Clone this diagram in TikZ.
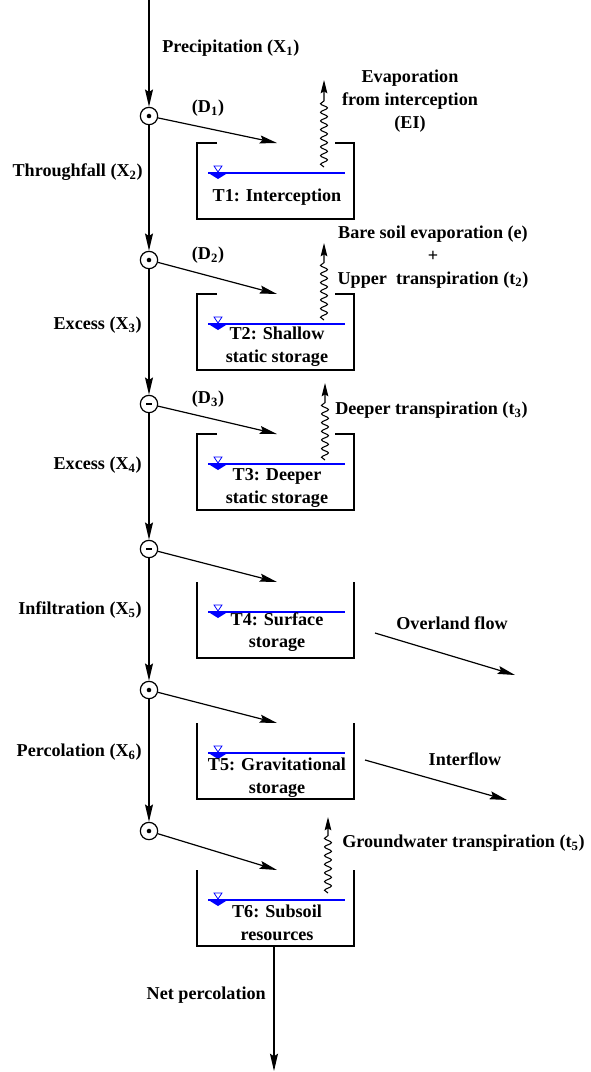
\documentclass[tikz,border=0pt]{standalone}
\usepackage{fontspec}
\setmainfont{Liberation Serif}
\usetikzlibrary{arrows.meta, decorations.pathmorphing}

\begin{document}
\begin{tikzpicture}[
        x=0.75pt, y=-0.75pt,
        every node/.style={font=\fontsize{13.6}{17}\selectfont\bfseries},
        lbl/.style={inner sep=0pt, align=center},
        junc/.style={circle, draw, line width=0.9pt, minimum size=13pt, inner sep=0pt},
        jdot/.style={junc, path picture={\fill (path picture bounding box.center) circle (1.7pt);}},
        jdash/.style={junc, path picture={\draw[line width=1.4pt] ([xshift=-2.2pt]path picture bounding box.center) -- ([xshift=2.2pt]path picture bounding box.center);}},
        arrow/.style={-{Stealth[length=13pt, width=6pt, inset=2pt]}, line width=0.9pt},
        vapour/.style={-{Stealth[length=10pt, width=5pt, inset=1.5pt]}, line width=0.8pt, decorate, decoration={snake, amplitude=2.6pt, segment length=6.5pt, post length=13pt}},
        wall/.style={line width=2pt},
        water/.style={blue, line width=1pt},
        level/.pic={
            \draw[water] (11,30) -- (148,30);
            \draw[blue, line width=0.6pt] (17,23) -- (25,23) -- (21,29) -- cycle;
            \fill[blue] (13,31) -- (29,31) -- (21,36) -- cycle;
        },
        lidtank/.pic={
            \draw[wall] (20,0) -- (0,0) -- (0,76) -- (157,76) -- (157,0) -- (138,0);
            \pic {level};
        },
        opentank/.pic={
            \draw[wall] (0,0) -- (0,76) -- (157,76) -- (157,0);
            \pic {level};
        }
    ]
    \useasboundingbox (0,0) rectangle (591,1072);

    % junctions on the main column
    \coordinate (rain) at (149,0);
    \node[jdot] (j1) at (149,116) {};
    \node[jdot] (j2) at (149,260) {};
    \node[jdash] (j3) at (149,404) {};
    \node[jdash] (j4) at (149,549) {};
    \node[jdot] (j5) at (149,690) {};
    \node[jdot] (j6) at (149,831) {};

    % tanks
    \pic at (197,143) {lidtank};
    \pic at (197,294) {lidtank};
    \pic at (197,434) {lidtank};
    \pic at (197,582) {opentank};
    \pic at (197,723) {opentank};
    \pic at (197,870) {opentank};

    \node[lbl] (t1) at (277,197) {T1: Interception};
    \node[lbl] (t2) at (277,347) {T2: Shallow\\static storage};
    \node[lbl] (t3) at (277,488) {T3: Deeper\\static storage};
    \node[lbl] (t4) at (277,632) {T4: Surface\\storage};
    \node[lbl] (t5) at (277,778) {T5: Gravitational\\storage};
    \node[lbl] (t6) at (277,923) {T6: Subsoil\\resources};

    % inlets and outlets
    \coordinate (in1) at (277,143);
    \coordinate (in2) at (277,294);
    \coordinate (in3) at (277,434);
    \coordinate (in4) at (277,582);
    \coordinate (in5) at (277,723);
    \coordinate (in6) at (277,870);
    \coordinate (out6) at (274,946);
    \coordinate (deep) at (274,1071);
    \coordinate (of1) at (375,633);
    \coordinate (of2) at (515,675);
    \coordinate (if1) at (365,760);
    \coordinate (if2) at (507,800);
    \coordinate (ev1) at (324,167);
    \coordinate (ev1top) at (324,80);
    \coordinate (ev2) at (324,320);
    \coordinate (ev2top) at (324,243);
    \coordinate (ev3) at (325,460);
    \coordinate (ev3top) at (325,383);
    \coordinate (ev6) at (328,893);
    \coordinate (ev6top) at (328,817);

    % labels
    \node[lbl, anchor=west] (precip) at (162,48) {Precipitation (X\textsubscript{1})};
    \node[lbl, anchor=east] (thru) at (143,172) {Throughfall (X\textsubscript{2})};
    \node[lbl, anchor=east] (ex3) at (142,325) {Excess (X\textsubscript{3})};
    \node[lbl, anchor=east] (ex4) at (142,465) {Excess (X\textsubscript{4})};
    \node[lbl, anchor=east] (infil) at (142,610) {Infiltration (X\textsubscript{5})};
    \node[lbl, anchor=east] (perc) at (142,752) {Percolation (X\textsubscript{6})};
    \node[lbl, anchor=east] (netperc) at (266,995) {Net percolation};
    \node[lbl] (d1) at (208,108) {(D\textsubscript{1})};
    \node[lbl] (d2) at (208,255) {(D\textsubscript{2})};
    \node[lbl] (d3) at (208,399) {(D\textsubscript{3})};
    \node[lbl] (ei) at (410,101) {Evaporation\\from interception\\(EI)};
    \node[lbl] (bare) at (433,257) {Bare soil evaporation (e)\\+\\Upper\ \ transpiration (t\textsubscript{2})};
    \node[lbl, anchor=west] (deeper) at (335,410) {Deeper transpiration (t\textsubscript{3})};
    \node[lbl, anchor=west] (ground) at (342,843) {Groundwater transpiration (t\textsubscript{5})};
    \node[lbl] (overland) at (452,623) {Overland flow};
    \node[lbl] (inter) at (465,759) {Interflow};

    % flows
    \draw[arrow] (rain) -- (j1);
    \draw[arrow] (j1) -- (j2);
    \draw[arrow] (j2) -- (j3);
    \draw[arrow] (j3) -- (j4);
    \draw[arrow] (j4) -- (j5);
    \draw[arrow] (j5) -- (j6);
    \draw[arrow] (j1) -- (in1);
    \draw[arrow] (j2) -- (in2);
    \draw[arrow] (j3) -- (in3);
    \draw[arrow] (j4) -- (in4);
    \draw[arrow] (j5) -- (in5);
    \draw[arrow] (j6) -- (in6);
    \draw[arrow] (out6) -- (deep);
    \draw[arrow] (of1) -- (of2);
    \draw[arrow] (if1) -- (if2);
    \draw[vapour] (ev1) -- (ev1top);
    \draw[vapour] (ev2) -- (ev2top);
    \draw[vapour] (ev3) -- (ev3top);
    \draw[vapour] (ev6) -- (ev6top);
\end{tikzpicture}
\end{document}
